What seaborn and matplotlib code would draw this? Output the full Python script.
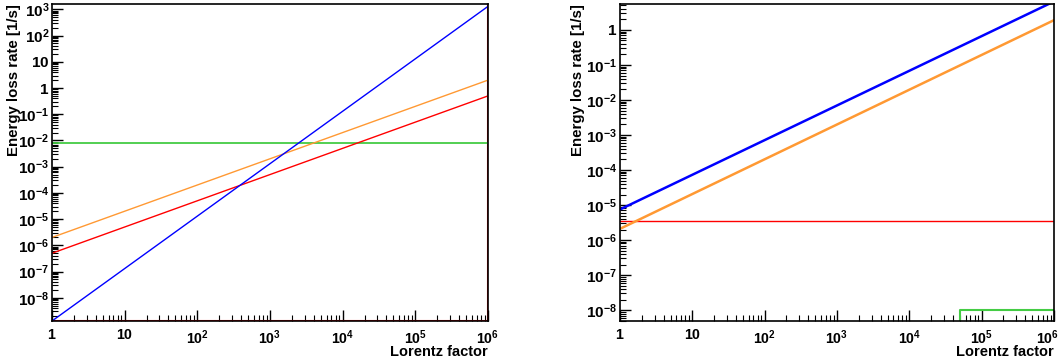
import numpy as np
import pandas as pd
import matplotlib
matplotlib.use("Agg")
import matplotlib.pyplot as plt
import matplotlib.ticker as mticker
import matplotlib.transforms as mtransforms
import seaborn as sns

# ---------------- data ----------------
gamma_ends = [1.0, 1e6]

# left panel
left_blue = [1.3e-9, 1.3e3]
left_orange = [2.0e-6, 2.0]
left_red = [5.0e-7, 0.5]
left_green = [8.0e-3, 8.0e-3]

# right panel
right_blue = [7.5e-6, 6.5]
right_orange = [2.1e-6, 1.9]
right_red = [3.4e-6, 3.4e-6]
green_step_x = [5.0e4, 5.0e4, 1e6]
green_step_y = [1e-12, 1.0e-8, 1.0e-8]

left_ylim = (1.3e-9, 1.6e3)
right_ylim = (4.9e-9, 5.5)
xlim = (1.0, 1e6)

x_label = "Lorentz factor"
y_label = "Energy loss rate [1/s]"

# ---------------- style ----------------
sns.set_theme(style="white")
plt.rcParams["font.family"] = ["Liberation Sans", "DejaVu Sans"]
plt.rcParams["font.weight"] = "bold"
plt.rcParams["mathtext.fontset"] = "custom"
plt.rcParams["mathtext.bf"] = "Liberation Sans:bold"
plt.rcParams["mathtext.rm"] = "Liberation Sans:bold"
plt.rcParams["mathtext.it"] = "Liberation Sans:bold"
plt.rcParams["text.color"] = "black"
plt.rcParams["axes.labelcolor"] = "black"
plt.rcParams["xtick.color"] = "black"
plt.rcParams["ytick.color"] = "black"

C_BLUE = "#0000ff"
C_ORANGE = "#ff9933"
C_RED = "#ff0000"
C_GREEN = "#44cc44"

fig = plt.figure(figsize=(10.62, 3.63), dpi=100)
axL = fig.add_axes([52 / 1062, 1 - 321 / 363, (488 - 52) / 1062, (321 - 4) / 363])
axR = fig.add_axes([620 / 1062, 1 - 321 / 363, (1054 - 620) / 1062, (321 - 4) / 363])


def fmt(v, pos):
    e = int(round(np.log10(v)))
    if e == 0:
        return r"$\mathbf{1}$"
    if e == 1:
        return r"$\mathbf{10}$"
    return r"$\mathbf{10^{%d}}$" % e


def style_axis(ax, ylim):
    ax.set_xscale("log")
    ax.set_yscale("log")
    ax.set_xlim(*xlim)
    ax.set_ylim(*ylim)
    for s in ax.spines.values():
        s.set_color("black")
        s.set_linewidth(1.2)
    ax.xaxis.set_major_locator(mticker.LogLocator(base=10, numticks=20))
    ax.yaxis.set_major_locator(mticker.LogLocator(base=10, numticks=30))
    ax.xaxis.set_minor_locator(mticker.LogLocator(base=10, subs=np.arange(2, 10), numticks=20))
    ax.yaxis.set_minor_locator(mticker.LogLocator(base=10, subs=np.arange(2, 10), numticks=30))
    ax.xaxis.set_major_formatter(mticker.FuncFormatter(fmt))
    ax.yaxis.set_major_formatter(mticker.FuncFormatter(fmt))
    ax.xaxis.set_minor_formatter(mticker.NullFormatter())
    ax.yaxis.set_minor_formatter(mticker.NullFormatter())
    ax.tick_params(axis="both", which="major", direction="in", length=8, width=1,
                   colors="black", top=False, right=False, bottom=True, left=True)
    ax.tick_params(axis="y", which="major", pad=2, labelsize=11)
    ax.tick_params(axis="x", which="major", pad=5, labelsize=10.2)
    ax.tick_params(axis="both", which="minor", direction="in", length=4, width=0.8,
                   colors="black", top=False, right=False, bottom=True, left=True)
    ax.set_xlabel(x_label, fontsize=10.5, fontweight="bold", loc="right", labelpad=0)
    ax.set_ylabel(y_label, fontsize=10.8, fontweight="bold", loc="top", labelpad=2)
    ax.grid(False)
    if ax.get_legend():
        ax.get_legend().remove()


def draw(ax, x, y, color, lw):
    df = pd.DataFrame({"x": x, "y": y})
    sns.lineplot(data=df, x="x", y="y", ax=ax, color=color, linewidth=lw,
                 sort=False, estimator=None)


# left panel
draw(axL, gamma_ends, left_green, C_GREEN, 1.3)
draw(axL, gamma_ends, left_red, C_RED, 1.0)
draw(axL, gamma_ends, left_orange, C_ORANGE, 1.0)
draw(axL, gamma_ends, left_blue, C_BLUE, 1.0)
style_axis(axL, left_ylim)
axL.axhline(left_ylim[0], color=C_RED, lw=1.5, zorder=1)
axL.axvline(xlim[1], color=C_RED, lw=1.5, zorder=1)

# right panel
draw(axR, green_step_x, green_step_y, C_GREEN, 1.5)
draw(axR, gamma_ends, right_red, C_RED, 1.0)
draw(axR, gamma_ends, right_orange, C_ORANGE, 1.8)
draw(axR, gamma_ends, right_blue, C_BLUE, 1.8)
style_axis(axR, right_ylim)

for ax, yx in ((axL, -0.072), (axR, -0.081)):
    ax.xaxis.set_label_coords(1.0, -0.076)
    ax.yaxis.set_label_coords(yx, 1.0)

# keep the last x tick label of the right panel inside the figure
fig.canvas.draw()
shift = mtransforms.ScaledTranslation(-5 / 72, 0, fig.dpi_scale_trans)
for t in axR.get_xticklabels():
    if t.get_position()[0] >= xlim[1] * 0.99:
        t.set_transform(t.get_transform() + shift)

fig.savefig("out.png", dpi=100, facecolor="white")
